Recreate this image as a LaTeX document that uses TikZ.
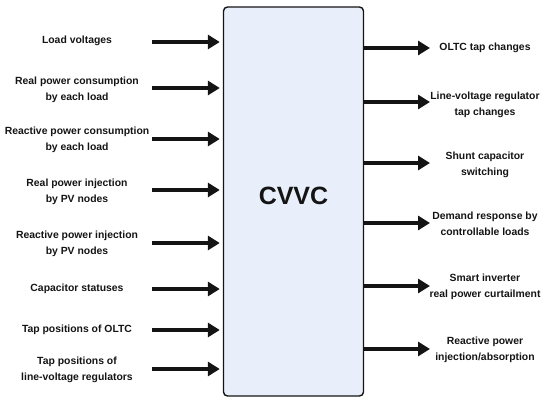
\documentclass[tikz,border=0pt]{standalone}
\usepackage{fontspec}
\setmainfont{Liberation Sans}
\usetikzlibrary{arrows.meta}
\definecolor{boxfill}{RGB}{232,239,250}
\definecolor{ink}{RGB}{20,20,20}
\tikzset{
  lab/.style={font=\bfseries\fontsize{10.4}{15.5}\selectfont, align=center, text=ink, inner sep=0pt},
  arr/.style={line width=3.6pt, draw=ink, -{Triangle[length=12pt,width=14pt]}},
}
\begin{document}
\begin{tikzpicture}[x=1pt,y=-1pt]
\useasboundingbox (0,0) rectangle (550,403);
\node[draw=ink, line width=1.4pt, fill=boxfill, rounded corners=4pt, minimum width=140pt, minimum height=389pt, inner sep=0pt] (box) at (293.5,201.5) {};
\node[font=\bfseries\fontsize{25}{30}\selectfont, text=ink] (title) at (293.5,196) {CVVC};
\coordinate (tailL) at (152,0);
\coordinate (headR) at (430,0);
\foreach \name/\y/\ay/\txt in {
  l1/41/42/{Load voltages},
  l2/90/88/{Real power consumption\\by each load},
  l3/140/139/{Reactive power consumption\\by each load},
  l4/192/190/{Real power injection\\by PV nodes},
  l5/244/243/{Reactive power injection\\by PV nodes},
  l6/289/289/{Capacitor statuses},
  l7/330/330/{Tap positions of OLTC},
  l8/370/369/{Tap positions of\\line-voltage regulators}}{
  \node[lab] (\name) at (77,\y) {\txt};
  \coordinate (\name a) at (0,\ay);
  \draw[arr, shorten >=3pt] (\name a -| tailL) -- (\name a -| box.west);
}
\foreach \name/\y/\ay/\txt in {
  r1/48/48/{OLTC tap changes},
  r2/105/102/{Line-voltage regulator\\tap changes},
  r3/165/163/{Shunt capacitor\\switching},
  r4/224/223/{Demand response by\\controllable loads},
  r5/287/286/{Smart inverter\\real power curtailment},
  r6/350/349/{Reactive power\\injection/absorption}}{
  \node[lab] (\name) at (485,\y) {\txt};
  \coordinate (\name a) at (0,\ay);
  \draw[arr] (\name a -| box.east) -- (\name a -| headR);
}
\end{tikzpicture}
\end{document}
